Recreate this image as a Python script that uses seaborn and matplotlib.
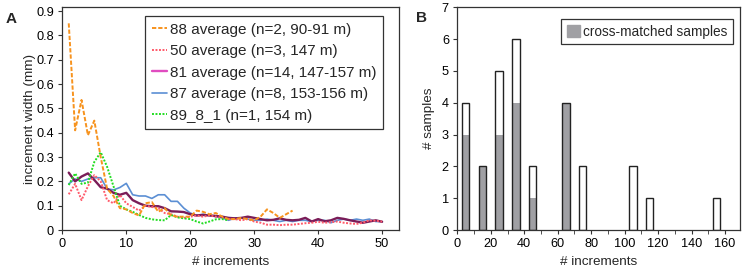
import numpy as np
import pandas as pd
import matplotlib
matplotlib.use('Agg')
import matplotlib.pyplot as plt
import seaborn as sns
from matplotlib.lines import Line2D
from matplotlib.patches import Patch

# PANEL A: increment width per increment
inc_88 = list(range(1, 37))
w_88 = [0.85, 0.41, 0.535, 0.39, 0.45, 0.30, 0.17, 0.14, 0.09, 0.085,
        0.07, 0.06, 0.11, 0.115, 0.075, 0.09, 0.06, 0.055, 0.055, 0.055,
        0.08, 0.075, 0.065, 0.07, 0.055, 0.045, 0.045, 0.05, 0.045, 0.04,
        0.055, 0.085, 0.07, 0.05, 0.065, 0.08]

inc_50 = list(range(1, 51))
w_50 = [0.147, 0.19, 0.123, 0.18, 0.226, 0.20, 0.123, 0.11, 0.144, 0.11,
        0.095, 0.08, 0.10, 0.095, 0.09, 0.07, 0.065, 0.055, 0.05, 0.055,
        0.06, 0.055, 0.06, 0.055, 0.05, 0.045, 0.045, 0.04, 0.045, 0.035,
        0.03, 0.022, 0.022, 0.02, 0.022, 0.022, 0.025, 0.028, 0.03, 0.034,
        0.03, 0.032, 0.035, 0.03, 0.027, 0.025, 0.03, 0.04, 0.038, 0.035]

inc_81 = list(range(1, 51))
w_81 = [0.236, 0.20, 0.22, 0.233, 0.206, 0.176, 0.17, 0.153, 0.145, 0.153,
        0.123, 0.11, 0.10, 0.098, 0.098, 0.09, 0.077, 0.076, 0.074, 0.065,
        0.06, 0.062, 0.06, 0.058, 0.055, 0.05, 0.048, 0.05, 0.055, 0.05,
        0.045, 0.04, 0.042, 0.048, 0.042, 0.04, 0.042, 0.05, 0.035, 0.045,
        0.036, 0.04, 0.05, 0.046, 0.04, 0.035, 0.03, 0.035, 0.04, 0.034]

inc_87 = list(range(1, 51))
w_87 = [0.19, 0.21, 0.20, 0.21, 0.215, 0.215, 0.17, 0.165, 0.175, 0.192,
        0.145, 0.14, 0.14, 0.13, 0.145, 0.145, 0.118, 0.118, 0.09, 0.07,
        0.06, 0.065, 0.06, 0.055, 0.05, 0.04, 0.05, 0.05, 0.045, 0.04,
        0.04, 0.045, 0.04, 0.035, 0.04, 0.035, 0.04, 0.04, 0.035, 0.04,
        0.04, 0.03, 0.04, 0.045, 0.04, 0.045, 0.04, 0.045, 0.035, 0.035]

inc_89 = list(range(1, 27))
w_89 = [0.185, 0.233, 0.19, 0.195, 0.28, 0.32, 0.26, 0.18, 0.10, 0.085,
        0.075, 0.062, 0.05, 0.044, 0.041, 0.04, 0.062, 0.052, 0.048, 0.045,
        0.035, 0.027, 0.035, 0.044, 0.045, 0.04]

labels_a = ["88 average (n=2, 90-91 m)", "50 average (n=3, 147 m)",
            "81 average (n=14, 147-157 m)", "87 average (n=8, 153-156 m)",
            "89_8_1 (n=1, 154 m)"]

# PANEL B: histogram of number of increments
bin_centers = [5, 15, 25, 35, 45, 65, 75, 105, 115, 155]
n_samples = [4, 2, 5, 6, 2, 4, 2, 2, 1, 1]
n_cross = [3, 2, 3, 4, 1, 4, 0, 0, 0, 0]

TICK_FS = 9.2
LAB_FS = 9.7
sns.set_style("ticks")
plt.rcParams['font.family'] = ['Liberation Sans', 'DejaVu Sans']
plt.rcParams['font.size'] = LAB_FS
plt.rcParams['axes.edgecolor'] = '#333333'
plt.rcParams['axes.linewidth'] = 0.9
plt.rcParams['xtick.color'] = '#333333'
plt.rcParams['ytick.color'] = '#333333'
plt.rcParams['xtick.labelcolor'] = 'black'
plt.rcParams['ytick.labelcolor'] = 'black'
plt.rcParams['xtick.labelsize'] = TICK_FS
plt.rcParams['ytick.labelsize'] = TICK_FS
plt.rcParams['xtick.major.size'] = 3
plt.rcParams['ytick.major.size'] = 3
plt.rcParams['xtick.minor.size'] = 3

fig = plt.figure(figsize=(7.43, 2.70), dpi=100)
ax_a = fig.add_axes([0.0839, 0.148, 0.4536, 0.825])
ax_b = fig.add_axes([0.6155, 0.148, 0.3805, 0.825])

# GRAFICO A
series = [
    (inc_88, w_88, '#f7931e', (0, (2.2, 1.0)), 1.4, 5),
    (inc_50, w_50, '#ff5a6a', (0, (1.0, 0.8)), 1.4, 3),
    (inc_81, w_81, '#7a1c58', '-', 1.7, 2),
    (inc_87, w_87, '#5b8fd4', '-', 1.2, 1),
    (inc_89, w_89, '#22dd22', (0, (1.0, 0.8)), 1.4, 4),
]
for (x, y, col, ls, lw, z), lab in zip(series, labels_a):
    df = pd.DataFrame({"inc": x, "w": y})
    sns.lineplot(data=df, x="inc", y="w", ax=ax_a, color=col, linestyle=ls,
                 linewidth=lw, zorder=z)

handle_cols = ['#f7931e', '#ff5a6a', '#e04cc0', '#5b8fd4', '#22dd22']
handles = [Line2D([], [], color=c, linestyle=s[3], linewidth=s[4])
           for c, s in zip(handle_cols, series)]
leg = ax_a.legend(handles, labels_a, loc='upper right',
                  bbox_to_anchor=(0.9525, 0.9623), borderaxespad=0,
                  fancybox=False, framealpha=1, edgecolor='#333333',
                  fontsize=11, handlelength=1.0, handletextpad=0.2,
                  labelspacing=0.49, borderpad=0.45)
leg.get_frame().set_linewidth(0.9)

ax_a.set_xlim(0, 52.7)
ax_a.set_ylim(0, 0.916)
ax_a.set_xticks([0, 10, 20, 30, 40, 50])
ax_a.set_yticks(np.arange(0, 0.95, 0.1))
ax_a.set_yticklabels(['0', '0.1', '0.2', '0.3', '0.4', '0.5', '0.6', '0.7', '0.8', '0.9'])
ax_a.set_xlabel('# increments', labelpad=4)
ax_a.set_ylabel('increment width (mm)', labelpad=0.5)

# GRAFICO B
ax_b.bar(bin_centers, n_samples, width=4.4, color='white',
         edgecolor='none', linewidth=0, zorder=1)
ax_b.bar(bin_centers, n_cross, width=4.4, color='#a0a0a4',
         edgecolor='none', linewidth=0, zorder=2)
ax_b.bar(bin_centers, n_samples, width=4.4, fill=False,
         edgecolor='#222222', linewidth=1.0, zorder=3)

ax_b.set_xlim(0, 169)
ax_b.set_ylim(0, 7)
ax_b.set_xticks(range(0, 161, 20))
ax_b.set_xticks(range(10, 170, 20), minor=True)
ax_b.set_yticks(range(0, 8))
ax_b.set_xlabel('# increments', labelpad=4)
ax_b.set_ylabel('# samples', labelpad=5)
leg_b = ax_b.legend([Patch(facecolor='#a0a0a4', edgecolor='#a0a0a4')],
                    ['cross-matched samples'], loc='upper right',
                    bbox_to_anchor=(0.974, 0.9475), borderaxespad=0,
                    fancybox=False, framealpha=1, edgecolor='#333333',
                    fontsize=9.8, handlelength=0.95, handleheight=0.9,
                    handletextpad=0.2, borderpad=0.42)
leg_b.get_frame().set_linewidth(0.9)

for ax in (ax_a, ax_b):
    for sp in ax.spines.values():
        sp.set_visible(True)
    ax.tick_params(axis='both', direction='out', pad=3)

fig.text(0.008, 0.915, 'A', fontsize=11, fontweight='bold')
fig.text(0.560, 0.918, 'B', fontsize=11, fontweight='bold')

plt.savefig('out.png', dpi=100)
plt.close()
